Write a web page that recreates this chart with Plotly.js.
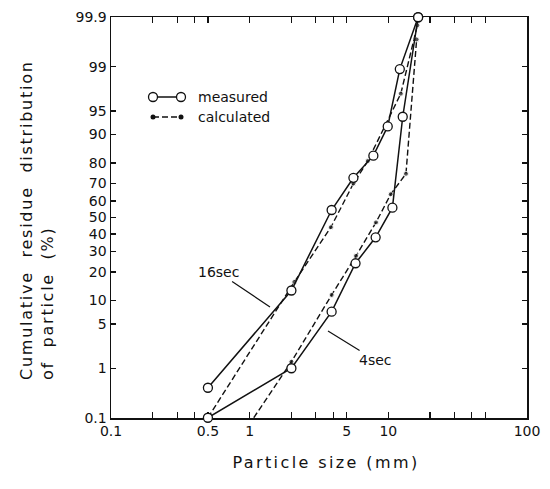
<!DOCTYPE html>
<html>
<head>
<meta charset="utf-8">
<script src="https://cdn.plot.ly/plotly-3.0.1.min.js"></script>
<style>
html, body { margin: 0; padding: 0; background: #fff; }
#chart { width: 550px; height: 489px; }
.xtitle { letter-spacing: 2.4px; transform: translate(7px, 0px); }
g.annotation[data-index="4"] text { letter-spacing: 1.75px; }
</style>
</head>
<body>
<div id="chart"></div>
<script>
// ---- data ----
const sizes16Measured = [0.5, 2, 3.9, 5.6, 7.8, 9.9, 12.1, 16.4];
const resid16Measured = [0.43, 13, 54.6, 73, 83, 92, 98.9, 99.9];
const sizes4Measured = [0.5, 2, 3.9, 5.8, 8.1, 10.7, 12.7, 16.4];
const resid4Measured = [0.1, 1, 7.3, 24, 38, 56, 94, 99.9];
const sizes16Calc = [0.5, 2.1, 3.85, 5.6, 7.1, 12.3, 16.2];
const resid16Calc = [0.1, 16, 44, 70, 80.8, 97.2, 99.85];
const sizes4Calc = [1.07, 2, 3.9, 5.85, 8.15, 10.4, 13.4, 16.0];
const resid4Calc = [0.1, 1.3, 11.6, 27.7, 47, 64, 75, 99.7];

const yTickPercents = [0.1, 1, 5, 10, 20, 30, 40, 50, 60, 70, 80, 90, 95, 99, 99.9];
const yTickLabels = ["0.1", "1", "5", "10", "20", "30", "40", "50", "60", "70", "80", "90", "95", "99", "99.9"];
const xTickValues = [0.1, 0.5, 1, 5, 10, 100];
const xTickLabels = ["0.1", "0.5", "1", "5", "10", "100"];
const xMinorValues = [0.2, 0.3, 0.4, 2, 3, 4, 20, 30, 40, 50];

// ---- probability-scale transform (inverse normal CDF) ----
function probit(p) {
  const a = [-3.969683028665376e+01, 2.209460984245205e+02, -2.759285104469687e+02, 1.383577518672690e+02, -3.066479806614716e+01, 2.506628277459239e+00];
  const b = [-5.447609879822406e+01, 1.615858368580409e+02, -1.556989798598866e+02, 6.680131188771972e+01, -1.328068155288572e+01];
  const c = [-7.784894002430293e-03, -3.223964580411365e-01, -2.400758277161838e+00, -2.549732539343734e+00, 4.374664141464968e+00, 2.938163982698783e+00];
  const d = [7.784695709041462e-03, 3.224671290700398e-01, 2.445134137142996e+00, 3.754408661907416e+00];
  const pl = 0.02425, ph = 1 - pl;
  let q, r;
  if (p < pl) {
    q = Math.sqrt(-2 * Math.log(p));
    return (((((c[0]*q+c[1])*q+c[2])*q+c[3])*q+c[4])*q+c[5]) / ((((d[0]*q+d[1])*q+d[2])*q+d[3])*q+1);
  } else if (p <= ph) {
    q = p - 0.5; r = q * q;
    return (((((a[0]*r+a[1])*r+a[2])*r+a[3])*r+a[4])*r+a[5])*q / (((((b[0]*r+b[1])*r+b[2])*r+b[3])*r+b[4])*r+1);
  } else {
    q = Math.sqrt(-2 * Math.log(1 - p));
    return -(((((c[0]*q+c[1])*q+c[2])*q+c[3])*q+c[4])*q+c[5]) / ((((d[0]*q+d[1])*q+d[2])*q+d[3])*q+1);
  }
}
const pz = arr => arr.map(v => probit(v / 100));

const FONT = "DejaVu Sans, Liberation Sans, sans-serif";
const INK = "#111";

const measuredStyle = {
  mode: "lines+markers",
  line: { color: INK, width: 1.5 },
  marker: { symbol: "circle", size: 9, color: "#fff", line: { color: INK, width: 1.3 } },
  cliponaxis: false,
  showlegend: false
};
const calcLine = { color: INK, width: 1.4, dash: "6px,3px" };

const traces = [
  {
    name: "16sec calculated", x: sizes16Calc, y: pz(resid16Calc), type: "scatter",
    mode: "lines+markers", line: calcLine,
    marker: { size: sizes16Calc.map((_, i) => i === 0 ? 0 : 5), color: INK },
    cliponaxis: false, showlegend: false
  },
  {
    name: "4sec calculated", x: sizes4Calc, y: pz(resid4Calc), type: "scatter",
    mode: "lines+markers", line: calcLine,
    marker: { size: sizes4Calc.map((_, i) => i === 0 ? 0 : 5), color: INK },
    cliponaxis: false, showlegend: false
  },
  Object.assign({ name: "16sec measured", x: sizes16Measured, y: pz(resid16Measured), type: "scatter" }, measuredStyle),
  Object.assign({ name: "4sec measured", x: sizes4Measured, y: pz(resid4Measured), type: "scatter" }, measuredStyle)
];

// legend sample positions (paper coords)
const Lx1 = (153 - 111) / 416, Lx2 = (181 - 111) / 416, Ltx = (196 - 111) / 416;
const Ly1 = (418 - 97) / 401, Ly2 = (418 - 117) / 401;

const yLo = probit(0.001), yHi = probit(0.999), yPad = 0.004;

const layout = {
  width: 550, height: 489,
  margin: { l: 111, r: 23, t: 17, b: 71 },
  paper_bgcolor: "#fff", plot_bgcolor: "#fff",
  font: { family: FONT, size: 14, color: INK },
  showlegend: false,
  xaxis: {
    type: "log", range: [-1, 2],
    tickmode: "array", tickvals: xTickValues, ticktext: xTickLabels,
    ticks: "inside", ticklen: 6, tickwidth: 1.2, tickcolor: INK,
    minor: { tickmode: "array", tickvals: xMinorValues, ticks: "inside", ticklen: 6, tickwidth: 1.2, tickcolor: INK, showgrid: false },
    showline: true, linecolor: INK, linewidth: 1.5, mirror: "ticks",
    showgrid: false, zeroline: false, layer: "below traces",
    tickfont: { family: FONT, size: 14, color: INK },
    title: { text: "Particle size (mm)", font: { family: FONT, size: 16, color: INK }, standoff: 18 }
  },
  yaxis: {
    type: "linear", range: [yLo - yPad, yHi + yPad],
    tickmode: "array", tickvals: pz(yTickPercents), ticktext: yTickLabels,
    ticks: "inside", ticklen: 5, tickwidth: 1.2, tickcolor: INK,
    showline: true, linecolor: INK, linewidth: 1.5, mirror: "ticks",
    showgrid: false, zeroline: false, layer: "below traces",
    tickfont: { family: FONT, size: 14, color: INK },
    title: { text: "" }
  },
  shapes: [
    { type: "line", xref: "paper", yref: "paper", x0: Lx1, x1: Lx2, y0: Ly1, y1: Ly1, line: { color: INK, width: 1.5 } },
    { type: "circle", xref: "paper", yref: "paper", xsizemode: "pixel", ysizemode: "pixel", xanchor: Lx1, yanchor: Ly1, x0: -4.5, x1: 4.5, y0: -4.5, y1: 4.5, fillcolor: "#fff", line: { color: INK, width: 1.3 } },
    { type: "circle", xref: "paper", yref: "paper", xsizemode: "pixel", ysizemode: "pixel", xanchor: Lx2, yanchor: Ly1, x0: -4.5, x1: 4.5, y0: -4.5, y1: 4.5, fillcolor: "#fff", line: { color: INK, width: 1.3 } },
    { type: "line", xref: "paper", yref: "paper", x0: Lx1, x1: Lx2, y0: Ly2, y1: Ly2, line: { color: INK, width: 1.4, dash: "6px,3px" } },
    { type: "circle", xref: "paper", yref: "paper", xsizemode: "pixel", ysizemode: "pixel", xanchor: Lx1, yanchor: Ly2, x0: -2.5, x1: 2.5, y0: -2.5, y1: 2.5, fillcolor: INK, line: { color: INK, width: 0 } },
    { type: "circle", xref: "paper", yref: "paper", xsizemode: "pixel", ysizemode: "pixel", xanchor: Lx2, yanchor: Ly2, x0: -2.5, x1: 2.5, y0: -2.5, y1: 2.5, fillcolor: INK, line: { color: INK, width: 0 } }
  ],
  annotations: [
    { xref: "paper", yref: "paper", x: Ltx, y: Ly1, xanchor: "left", yanchor: "middle", text: "measured", showarrow: false, font: { family: FONT, size: 14, color: INK } },
    { xref: "paper", yref: "paper", x: Ltx, y: Ly2, xanchor: "left", yanchor: "middle", text: "calculated", showarrow: false, font: { family: FONT, size: 14, color: INK } },
    { xref: "paper", yref: "paper", x: (270 - 111) / 416, y: (418 - 307) / 401, ax: -52, ay: -35, text: "16sec", showarrow: true, arrowhead: 0, arrowwidth: 1.2, arrowcolor: INK, font: { family: FONT, size: 14, color: INK } },
    { xref: "paper", yref: "paper", x: (328 - 111) / 416, y: (418 - 331) / 401, ax: 47, ay: 29, text: "4sec", showarrow: true, arrowhead: 0, arrowwidth: 1.2, arrowcolor: INK, font: { family: FONT, size: 14, color: INK } },
    { xref: "paper", yref: "paper", x: (37 - 111) / 416, y: (418 - 249) / 401, xanchor: "center", yanchor: "middle", textangle: -90, align: "left",
      text: "Cumulative\u00A0\u00A0residue\u00A0\u00A0distribution<br>of\u00A0\u00A0particle\u00A0\u00A0(%)", showarrow: false, font: { family: FONT, size: 16, color: INK } }
  ]
};

Plotly.newPlot("chart", traces, layout, { displayModeBar: false, staticPlot: true });
</script>
</body>
</html>
